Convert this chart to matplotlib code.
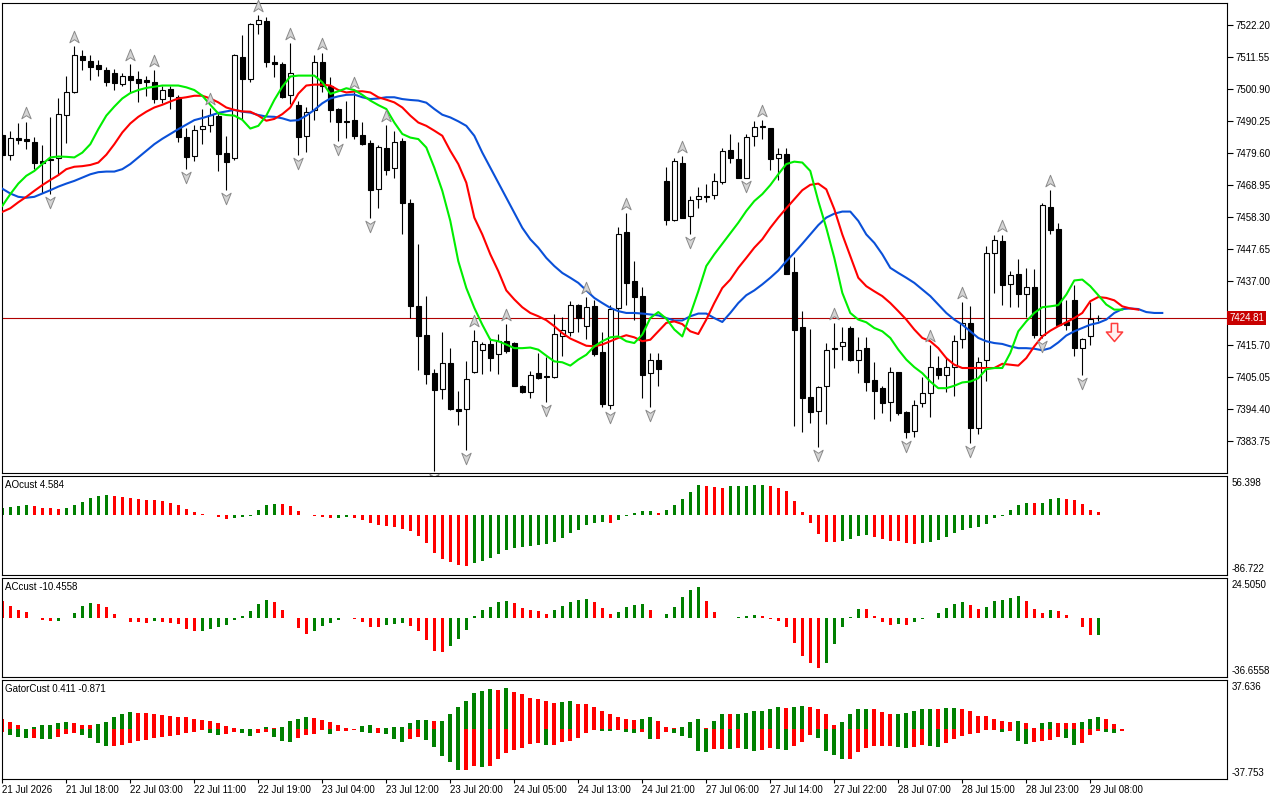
import numpy as np
import matplotlib
matplotlib.use('Agg')
import matplotlib.pyplot as plt
from matplotlib.path import Path
from matplotlib import transforms

# ---------------- data (H1 bars) ----------------
opens = [7485.6, 7478.9, 7484.7, 7484.1, 7483.3, 7476.9, 7477.5, 7477.8, 7492.2, 7500.0,
         7511.7, 7510.2, 7508.7, 7507.2, 7506.3, 7502.4, 7505.3, 7504.3, 7503.8, 7503.3,
         7497.4, 7500.9, 7498.3, 7485.0, 7478.6, 7487.4, 7488.9, 7492.0, 7479.6, 7478.0,
         7511.6, 7504.1, 7522.6, 7523.3, 7509.7, 7509.3, 7498.7, 7495.6, 7485.1, 7493.9,
         7509.7, 7501.7, 7494.1, 7490.3, 7490.7, 7485.6, 7483.0, 7467.6, 7481.4, 7474.7,
         7483.7, 7463.0, 7428.6, 7419.2, 7406.3, 7401.1, 7409.7, 7394.4, 7394.4, 7406.7,
         7414.2, 7416.1, 7412.6, 7417.2, 7416.4, 7402.2, 7400.2, 7406.3, 7405.6, 7405.0,
         7418.9, 7420.2, 7428.9, 7421.9, 7428.7, 7413.3, 7395.8, 7428.1, 7453.3, 7436.9,
         7431.9, 7406.4, 7410.6, 7470.3, 7457.4, 7476.1, 7458.6, 7464.2, 7465.2, 7465.6,
         7470.0, 7480.6, 7477.6, 7471.4, 7485.2, 7488.2, 7487.8, 7478.0, 7479.2, 7440.0,
         7421.7, 7398.6, 7393.9, 7402.2, 7414.9, 7415.3, 7421.3, 7410.9, 7414.7, 7404.2,
         7401.3, 7396.9, 7406.7, 7393.6, 7387.2, 7396.4, 7399.8, 7408.0, 7405.8, 7408.6,
         7417.6, 7423.0, 7388.0, 7410.9, 7446.4, 7450.3, 7436.1, 7439.2, 7432.6, 7435.0,
         7419.1, 7461.7, 7454.2, 7423.3, 7430.6, 7414.7, 7418.6, 7424.6]
highs = [7486.0, 7486.9, 7489.7, 7490.0, 7485.0, 7482.2, 7491.7, 7497.7, 7505.3, 7515.3,
         7513.9, 7512.2, 7510.6, 7508.0, 7507.6, 7506.1, 7509.3, 7506.7, 7505.3, 7507.0,
         7501.7, 7501.7, 7498.9, 7487.8, 7488.9, 7494.2, 7494.4, 7492.8, 7485.3, 7512.4,
         7518.9, 7522.8, 7525.3, 7524.8, 7512.0, 7509.7, 7516.1, 7497.0, 7494.7, 7512.2,
         7512.8, 7504.7, 7494.4, 7496.7, 7500.0, 7489.8, 7483.9, 7482.2, 7488.9, 7486.9,
         7484.4, 7464.2, 7449.2, 7432.2, 7407.8, 7420.0, 7414.7, 7400.6, 7410.3, 7420.6,
         7416.7, 7418.0, 7419.4, 7422.8, 7416.6, 7402.4, 7407.2, 7413.1, 7411.7, 7426.1,
         7425.0, 7430.3, 7429.4, 7431.7, 7430.6, 7420.0, 7428.9, 7455.0, 7459.7, 7443.6,
         7435.0, 7413.0, 7413.0, 7475.0, 7478.0, 7478.6, 7465.3, 7468.3, 7469.2, 7472.8,
         7481.1, 7485.9, 7483.3, 7485.8, 7490.3, 7490.6, 7488.0, 7481.1, 7481.1, 7445.0,
         7427.2, 7421.1, 7402.2, 7416.4, 7423.1, 7421.7, 7422.0, 7418.3, 7418.3, 7410.0,
         7402.2, 7408.3, 7406.9, 7393.9, 7397.6, 7405.0, 7415.6, 7412.0, 7411.7, 7419.1,
         7430.0, 7428.7, 7411.7, 7448.7, 7452.4, 7452.4, 7440.2, 7444.2, 7441.3, 7441.1,
         7462.8, 7467.2, 7456.4, 7430.6, 7435.8, 7418.0, 7430.0, 7425.6]
lows = [7478.0, 7477.1, 7482.4, 7480.8, 7474.4, 7466.4, 7465.8, 7472.2, 7482.8, 7499.5,
        7507.0, 7503.8, 7505.1, 7501.8, 7500.6, 7502.0, 7499.7, 7496.4, 7498.6, 7496.3,
        7496.1, 7494.1, 7483.3, 7474.1, 7476.9, 7482.4, 7486.4, 7473.6, 7467.4, 7477.1,
        7490.9, 7503.3, 7519.2, 7508.1, 7504.7, 7497.8, 7496.0, 7478.9, 7480.0, 7490.6,
        7499.8, 7489.8, 7483.6, 7484.4, 7484.2, 7482.2, 7458.0, 7461.3, 7472.2, 7471.1,
        7452.8, 7424.7, 7407.4, 7402.8, 7373.9, 7397.8, 7394.1, 7389.1, 7380.8, 7406.4,
        7406.1, 7407.2, 7406.1, 7413.1, 7402.0, 7399.8, 7398.1, 7404.4, 7396.7, 7404.8,
        7412.2, 7418.9, 7420.2, 7417.8, 7412.2, 7395.0, 7394.4, 7418.3, 7429.1, 7424.2,
        7398.0, 7395.0, 7402.0, 7455.8, 7456.9, 7457.8, 7452.8, 7461.4, 7463.3, 7464.4,
        7469.4, 7476.3, 7471.1, 7471.1, 7482.0, 7484.2, 7473.9, 7470.6, 7439.2, 7388.9,
        7386.9, 7389.8, 7381.7, 7389.4, 7408.1, 7410.6, 7410.3, 7406.4, 7400.6, 7391.1,
        7393.1, 7390.6, 7392.4, 7385.0, 7385.3, 7395.3, 7391.7, 7404.4, 7400.2, 7398.7,
        7414.8, 7383.3, 7386.1, 7403.9, 7433.1, 7429.1, 7428.3, 7428.3, 7425.0, 7418.0,
        7418.0, 7452.8, 7422.0, 7420.6, 7412.0, 7405.8, 7415.8, 7423.7]
closes = [7478.9, 7484.7, 7483.8, 7483.6, 7476.1, 7476.4, 7477.1, 7492.6, 7500.0, 7512.0,
          7510.4, 7508.1, 7507.4, 7503.1, 7502.8, 7505.3, 7503.7, 7502.8, 7503.1, 7497.4,
          7500.6, 7498.6, 7484.8, 7478.2, 7487.3, 7488.7, 7492.2, 7479.2, 7476.6, 7512.2,
          7504.1, 7522.6, 7523.7, 7509.8, 7509.1, 7498.1, 7506.3, 7485.0, 7493.3, 7509.7,
          7501.7, 7493.7, 7489.8, 7490.0, 7485.3, 7482.4, 7467.2, 7481.6, 7473.9, 7483.3,
          7462.8, 7428.6, 7418.6, 7406.1, 7400.9, 7409.7, 7394.4, 7393.9, 7404.4, 7417.2,
          7416.2, 7411.4, 7417.2, 7413.6, 7402.2, 7400.2, 7405.8, 7404.8, 7405.2, 7419.4,
          7420.6, 7428.9, 7424.7, 7428.3, 7412.8, 7396.1, 7427.8, 7452.6, 7436.3, 7431.7,
          7405.8, 7410.9, 7407.8, 7457.2, 7476.9, 7458.0, 7463.9, 7465.2, 7465.0, 7470.2,
          7480.2, 7477.8, 7471.4, 7485.0, 7488.2, 7488.7, 7477.6, 7479.2, 7439.4, 7420.8,
          7398.1, 7393.6, 7401.7, 7414.2, 7414.4, 7416.9, 7410.9, 7414.2, 7403.6, 7400.6,
          7396.4, 7406.7, 7393.3, 7386.7, 7395.9, 7399.7, 7408.3, 7405.8, 7408.6, 7417.2,
          7423.0, 7388.0, 7410.2, 7446.4, 7450.6, 7435.8, 7438.9, 7432.8, 7435.0, 7419.1,
          7462.4, 7453.9, 7422.4, 7422.4, 7414.7, 7417.8, 7424.4, 7424.81]

# Alligator lines (already shifted forward, so they run past the last bar)
jaw = [7467.7, 7466.1, 7465.0, 7464.7, 7465.0, 7466.1, 7467.2, 7468.4, 7469.4, 7470.3,
       7471.4, 7472.5, 7473.2, 7473.4, 7473.4, 7474.2, 7475.9, 7478.1, 7480.3, 7482.5,
       7484.3, 7485.9, 7487.5, 7489.0, 7490.5, 7491.2, 7492.0, 7492.9, 7493.4, 7493.9,
       7493.3, 7493.0, 7492.2, 7491.7, 7491.6, 7491.1, 7490.3, 7490.5, 7492.0, 7493.9,
       7496.1, 7497.7, 7498.4, 7498.9, 7499.0, 7498.1, 7497.5, 7497.7, 7498.1, 7498.1,
       7497.5, 7497.2, 7497.0, 7496.3, 7494.2, 7492.3, 7491.4, 7490.1, 7488.6, 7485.3,
       7479.7, 7474.7, 7469.7, 7464.7, 7459.7, 7454.7, 7450.9, 7448.1, 7444.7, 7442.0,
       7439.7, 7438.1, 7436.4, 7433.9, 7431.4, 7429.7, 7428.1, 7427.0, 7426.4, 7426.4,
       7426.2, 7425.9, 7425.6, 7424.7, 7423.9, 7423.9, 7425.3, 7426.2, 7426.2, 7424.7,
       7423.4, 7426.4, 7429.7, 7432.3, 7433.9, 7435.9, 7438.1, 7440.5, 7443.6, 7446.4,
       7449.4, 7452.5, 7455.6, 7458.1, 7459.4, 7460.1, 7460.1, 7457.0, 7452.5, 7449.7,
       7445.9, 7441.4, 7439.7, 7438.1, 7436.4, 7434.2, 7432.0, 7429.2, 7426.4, 7424.2,
       7422.5, 7420.3, 7418.1, 7417.0, 7416.4, 7416.1, 7415.3, 7414.7, 7414.7, 7414.5,
       7414.0, 7414.7, 7416.6, 7418.9, 7420.3, 7421.4, 7422.5, 7423.1, 7424.2, 7426.4,
       7427.7, 7427.9, 7427.7, 7426.7, 7426.4, 7426.4]
teeth = [7460.0, 7461.2, 7463.2, 7465.0, 7467.0, 7468.9, 7470.6, 7472.2, 7474.2, 7475.0,
         7475.2, 7475.6, 7476.4, 7479.0, 7482.5, 7486.4, 7489.4, 7491.6, 7493.3, 7494.7,
         7495.6, 7496.7, 7497.7, 7498.1, 7498.6, 7498.6, 7497.7, 7496.4, 7494.7, 7493.9,
         7493.4, 7493.3, 7492.0, 7490.3, 7490.9, 7492.5, 7494.7, 7499.3, 7502.0, 7502.3,
         7502.3, 7502.0, 7500.5, 7499.7, 7500.0, 7500.1, 7499.7, 7498.1, 7497.3, 7496.4,
         7494.7, 7492.0, 7489.7, 7488.6, 7487.0, 7485.3, 7480.3, 7475.9, 7469.7, 7458.1,
         7452.5, 7445.9, 7440.3, 7433.9, 7430.9, 7428.3, 7426.4, 7425.3, 7424.0, 7422.0,
         7419.7, 7417.9, 7416.7, 7415.5, 7415.3, 7415.9, 7417.0, 7418.1, 7419.0, 7418.3,
         7417.0, 7417.5, 7420.3, 7423.1, 7423.6, 7422.7, 7420.3, 7419.4, 7424.2, 7429.7,
         7434.7, 7437.5, 7441.4, 7444.7, 7448.1, 7450.9, 7454.7, 7458.1, 7461.2, 7464.2,
         7467.2, 7469.0, 7469.4, 7467.5, 7460.9, 7452.5, 7445.3, 7438.1, 7435.3, 7433.6,
         7432.0, 7429.7, 7427.0, 7424.2, 7420.9, 7418.1, 7417.0, 7414.7, 7411.4, 7409.2,
         7408.1, 7408.1, 7408.1, 7408.1, 7408.1, 7409.5, 7409.2, 7408.9, 7411.4, 7415.3,
         7418.6, 7420.5, 7422.0, 7423.3, 7424.7, 7426.4, 7430.3, 7431.7, 7431.4, 7430.6,
         7428.6, 7427.9, 7427.5]
lips = [7462.0, 7465.9, 7469.4, 7472.0, 7473.6, 7475.9, 7478.1, 7478.4, 7478.3, 7478.1,
        7479.7, 7482.5, 7487.5, 7492.0, 7495.0, 7497.7, 7499.5, 7500.5, 7501.2, 7501.6,
        7502.0, 7502.0, 7502.0, 7501.4, 7500.5, 7498.6, 7495.6, 7492.7, 7492.2, 7492.0,
        7490.6, 7487.7, 7488.6, 7492.0, 7497.2, 7501.6, 7505.0, 7505.3, 7505.3, 7505.3,
        7503.1, 7499.2, 7500.1, 7501.1, 7500.5, 7498.9, 7497.0, 7495.5, 7494.2, 7489.7,
        7485.9, 7484.7, 7484.2, 7481.4, 7474.7, 7467.0, 7457.0, 7443.6, 7434.7, 7428.1,
        7422.5, 7417.5, 7417.0, 7415.9, 7414.7, 7414.7, 7414.9, 7414.2, 7412.2, 7410.3,
        7410.0, 7408.9, 7410.9, 7412.5, 7415.3, 7417.0, 7418.3, 7418.6, 7417.0, 7416.4,
        7419.2, 7424.7, 7426.7, 7424.5, 7420.9, 7418.6, 7425.9, 7433.6, 7442.0, 7445.9,
        7449.4, 7452.9, 7456.4, 7460.3, 7463.6, 7465.9, 7468.9, 7472.5, 7475.9, 7476.7,
        7476.4, 7473.6, 7463.6, 7454.7, 7444.7, 7433.1, 7426.4, 7424.2, 7423.3, 7421.4,
        7420.3, 7418.1, 7414.2, 7410.9, 7408.4, 7406.4, 7403.6, 7401.4, 7401.4, 7402.2,
        7403.3, 7403.6, 7404.7, 7407.7, 7408.1, 7408.1, 7413.1, 7420.3, 7423.6, 7426.4,
        7428.3, 7428.6, 7429.0, 7432.5, 7437.2, 7437.5, 7435.3, 7432.3, 7429.2, 7427.5,
        7427.5]

up_fractals = [3, 9, 16, 19, 26, 32, 36, 40, 44, 48, 59, 63, 73, 78, 85, 95, 104, 116, 120, 125, 131]
down_fractals = [6, 23, 28, 37, 42, 46, 54, 58, 68, 76, 81, 86, 93, 102, 113, 121, 130, 135]

ao = [10.6, 12.0, 13.0, 14.4, 13.0, 10.6, 10.1, 8.6, 10.1, 14.4,
      19.2, 24.5, 27.4, 28.8, 27.4, 25.9, 24.5, 22.6, 21.6, 21.4,
      20.2, 16.8, 14.4, 8.6, 4.3, 1.0, -0.5, -2.9, -5.3, -3.8,
      -2.4, -1.0, 7.2, 14.4, 15.8, 15.4, 13.0, 5.8, -0.5, -1.0,
      -2.4, -3.8, -3.6, -2.9, -3.8, -6.7, -11.0, -13.9, -15.8, -17.3,
      -20.2, -22.6, -29.8, -40.3, -54.7, -63.4, -68.6, -72.5, -74.4, -69.1,
      -65.8, -62.0, -56.2, -50.4, -47.0, -45.6, -44.2, -43.2, -41.8, -39.0,
      -32.6, -25.4, -21.6, -14.4, -11.0, -9.6, -11.0, -7.2, -1.0, 2.4,
      5.8, 6.0, 2.9, 7.2, 14.4, 23.0, 33.6, 43.2, 41.8, 40.3,
      38.9, 41.8, 42.0, 42.2, 43.2, 43.4, 41.8, 38.9, 34.6, 20.2,
      4.3, -11.0, -27.4, -38.4, -38.6, -37.0, -34.1, -29.8, -28.3, -31.2,
      -34.1, -37.0, -37.2, -39.8, -41.3, -39.8, -39.6, -35.5, -31.2, -25.4,
      -21.1, -18.2, -16.8, -12.5, -3.8, -0.8, 7.2, 14.4, 17.3, 17.1,
      17.5, 23.0, 24.5, 23.0, 21.6, 15.8, 7.2, 4.584]
ac = [10.5, 7.4, 4.9, 3.3, -0.2, -1.6, -2.3, -2.1, -0.2, 3.1,
      7.4, 9.2, 8.6, 6.4, 2.1, -0.2, -2.5, -2.9, -3.0, -2.3,
      -2.9, -3.5, -4.1, -6.8, -8.4, -8.2, -7.2, -5.9, -4.7, -1.6,
      1.2, 4.3, 8.6, 11.1, 9.4, 4.9, -0.2, -6.6, -9.8, -8.4,
      -5.3, -3.5, -1.6, -0.4, -0.6, -2.9, -5.9, -6.0, -4.7, -4.1,
      -3.5, -5.3, -8.4, -13.7, -20.7, -21.3, -17.6, -13.3, -7.8, 1.2,
      4.9, 6.8, 9.4, 10.5, 8.8, 6.2, 4.5, 3.9, 2.5, 4.5,
      7.4, 9.8, 11.1, 11.7, 9.8, 6.2, 2.5, 3.7, 6.8, 8.0,
      8.2, 4.9, -0.2, 2.5, 6.8, 12.9, 17.2, 19.1, 10.5, 3.7,
      -0.2, 0.0, 0.6, 1.2, 1.8, 1.2, -1.0, -2.3, -5.9, -15.8,
      -23.8, -28.1, -31.2, -28.1, -16.4, -5.9, 0.6, 5.5, 5.3, 1.2,
      -2.9, -4.7, -4.1, -4.3, -2.9, -1.0, -0.2, 3.1, 6.2, 8.6,
      9.8, 8.0, 5.5, 6.8, 10.5, 11.1, 12.3, 13.5, 10.5, 5.5,
      3.1, 4.9, 4.3, 1.8, -0.2, -5.9, -10.9, -10.4558]
gator_up = [8.3, 5.6, 3.0, 0.3, 2.0, 3.0, 3.5, 4.6, 5.6, 4.6,
            3.5, 3.0, 4.0, 5.6, 9.1, 11.4, 12.9, 12.7, 12.4, 11.4,
            10.9, 10.6, 9.6, 9.1, 8.3, 7.3, 6.1, 4.8, 2.5, 0.8,
            0.3, 0.1, 0.2, 1.5, 0.8, 1.8, 6.1, 8.3, 9.1, 9.0,
            6.8, 5.6, 3.0, 0.8, 0.7, 2.3, 3.0, 0.8, 0.9, 1.5,
            2.0, 4.8, 6.8, 6.9, 6.6, 6.7, 11.6, 16.7, 22.0, 28.1,
            29.6, 31.1, 30.4, 31.2, 28.8, 26.6, 24.3, 22.8, 21.3, 20.5,
            20.6, 21.3, 19.7, 19.0, 16.7, 14.4, 11.4, 9.1, 7.6, 6.8,
            8.3, 9.1, 6.1, 1.5, 0.8, 1.5, 5.3, 7.6, 0.8, 6.1,
            12.1, 12.0, 12.1, 12.2, 13.7, 14.4, 15.9, 16.7, 16.6, 16.8,
            17.5, 16.7, 15.2, 11.4, 3.0, 5.3, 11.4, 15.2, 15.9, 15.2,
            12.9, 11.4, 12.1, 12.2, 13.7, 15.2, 15.9, 15.2, 16.0, 16.1,
            15.2, 13.7, 10.6, 9.9, 8.3, 6.1, 6.0, 6.1, 4.6, 0.8,
            4.6, 5.3, 5.2, 5.1, 4.6, 5.3, 8.3, 9.1, 7.6, 3.8,
            0.2, 0.35, 0.411]
gator_down = [1.8, 4.3, 5.8, 6.8, 6.6, 7.3, 7.6, 5.8, 3.5, 2.5,
              4.3, 6.8, 10.4, 12.7, 12.5, 11.6, 10.4, 8.9, 8.1, 6.8,
              5.8, 4.8, 4.3, 3.0, 2.3, 0.8, 2.5, 4.0, 3.3, 2.0,
              2.5, 4.8, 2.5, 2.0, 5.8, 8.9, 9.6, 6.8, 4.3, 3.3,
              0.8, 3.5, 1.3, 1.2, 0.5, 2.3, 2.5, 2.4, 3.5, 7.3,
              9.6, 7.3, 5.8, 8.1, 13.4, 20.2, 24.8, 30.9, 30.8, 28.1,
              28.8, 28.1, 22.8, 18.0, 15.9, 14.4, 11.4, 10.6, 12.1, 12.0,
              9.9, 9.1, 6.8, 3.0, 0.8, 0.9, 1.5, 0.8, 2.3, 3.0,
              2.3, 7.6, 7.5, 2.3, 3.0, 5.3, 6.8, 16.7, 17.5, 15.2,
              15.1, 15.2, 14.4, 15.2, 16.7, 15.9, 14.4, 15.2, 15.3, 12.9,
              9.9, 4.6, 6.8, 16.7, 19.7, 22.8, 22.7, 17.5, 14.4, 12.9,
              12.8, 12.7, 13.7, 14.4, 13.6, 12.1, 12.9, 13.7, 10.6, 7.6,
              5.3, 3.8, 3.0, 0.8, 0.7, 2.3, 1.5, 9.1, 11.4, 9.9,
              9.1, 8.3, 6.1, 6.8, 12.1, 10.6, 4.6, 1.5, 2.3, 2.4,
              0.871]

time_labels = ["21 Jul 2026", "21 Jul 18:00", "22 Jul 03:00", "22 Jul 11:00", "22 Jul 19:00",
               "23 Jul 04:00", "23 Jul 12:00", "23 Jul 20:00", "24 Jul 05:00", "24 Jul 13:00",
               "24 Jul 21:00", "27 Jul 06:00", "27 Jul 14:00", "27 Jul 22:00", "28 Jul 07:00",
               "28 Jul 15:00", "28 Jul 23:00", "29 Jul 08:00"]
price_ticks = [7522.20, 7511.55, 7500.90, 7490.25, 7479.60, 7468.95, 7458.30,
               7447.65, 7437.00, 7426.35, 7415.70, 7405.05, 7394.40, 7383.75]
last_price = 7424.81
signal_bar = 139
signal_price = 7420.2

ao_range = (-86.722, 56.398)
ac_range = (-36.6558, 24.5050)
gator_range = (-37.753, 37.636)
price_range = (7373.2, 7529.6)

GREEN = '#008000'
RED = '#ff0000'

plt.rcParams['font.family'] = ['Liberation Sans', 'DejaVu Sans']
plt.rcParams['font.size'] = 7


def trend_colors(vals, first):
    cols = [first]
    for prev, cur in zip(vals[:-1], vals[1:]):
        cols.append(GREEN if cur > prev else RED)
    return cols


def frame(ax):
    for s in ax.spines.values():
        s.set_linewidth(0.8)
        s.set_color('black')
    ax.set_xlim(-0.04, 153.09)


fig = plt.figure(figsize=(12.8, 8), dpi=100)
L, W = 2 / 1280, 1225 / 1280
ax = fig.add_axes([L, 1 - 473 / 800, W, 470.5 / 800])
ax_ao = fig.add_axes([L, 1 - 575 / 800, W, 99 / 800])
ax_ac = fig.add_axes([L, 1 - 677 / 800, W, 99 / 800])
ax_g = fig.add_axes([L, 1 - 779 / 800, W, 99 / 800])

# ---------------- price panel ----------------
x = np.arange(len(opens))
o, h, l, c = map(np.array, (opens, highs, lows, closes))
ax.vlines(x, l, h, color='black', lw=0.8, zorder=3)
body = np.maximum(np.abs(c - o), 0.25)
face = np.where(c >= o, 'white', 'black')
ax.bar(x, body, bottom=np.minimum(o, c), width=0.58, color=face,
       edgecolor='black', linewidth=0.8, zorder=4)

ax.axhline(last_price, color='#b00000', lw=0.8, zorder=2)

ax.plot(np.arange(len(jaw)), jaw, color='#0a50d8', lw=1.5, zorder=5)
ax.plot(np.arange(len(teeth)), teeth, color='#ff0000', lw=1.5, zorder=6)
ax.plot(np.arange(len(lips)), lips, color='#00ee00', lw=1.5, zorder=7)

up_arrow = Path([(0, 1), (0.75, -0.85), (0, -0.35), (-0.75, -0.85), (0, 1)],
                [Path.MOVETO, Path.LINETO, Path.LINETO, Path.LINETO, Path.CLOSEPOLY])
down_arrow = Path([(0, -1), (0.75, 0.85), (0, 0.35), (-0.75, 0.85), (0, -1)],
                  [Path.MOVETO, Path.LINETO, Path.LINETO, Path.LINETO, Path.CLOSEPOLY])
up_tr = transforms.offset_copy(ax.transData, fig=fig, x=0, y=9, units='dots')
dn_tr = transforms.offset_copy(ax.transData, fig=fig, x=0, y=-8, units='dots')
ax.plot(up_fractals, h[up_fractals], ls='none', marker=up_arrow, ms=9,
        mfc='#d4d4d4', mec='#8a8a8a', mew=0.7, transform=up_tr, zorder=8, clip_on=False)
ax.plot(down_fractals, l[down_fractals], ls='none', marker=down_arrow, ms=9,
        mfc='#d4d4d4', mec='#8a8a8a', mew=0.7, transform=dn_tr, zorder=8, clip_on=False)

sell_arrow = Path([(-0.35, 1), (0.35, 1), (0.35, 0.05), (0.9, 0.05), (0, -1),
                   (-0.9, 0.05), (-0.35, 0.05), (-0.35, 1)],
                  [Path.MOVETO] + [Path.LINETO] * 6 + [Path.CLOSEPOLY])
ax.plot([signal_bar], [signal_price], ls='none', marker=sell_arrow, ms=13,
        mfc='#fff0f0', mec='#ff3c3c', mew=1.1, zorder=8)

ax.set_ylim(*price_range)
ax.yaxis.tick_right()
ax.set_yticks(price_ticks)
# the tick next to the last price is covered by the price box, as in the terminal
ax.set_yticklabels(['' if abs(p - last_price) < 3 else f'{p:.2f}' for p in price_ticks])
ax.tick_params(axis='y', direction='out', length=4, width=0.8, pad=2)
ax.set_xticks([])
frame(ax)
ax.text(1.0 + 2 / 1225, last_price, f'{last_price:.2f}', color='white',
        transform=transforms.blended_transform_factory(ax.transAxes, ax.transData),
        ha='left', va='center', fontsize=7, zorder=20, clip_on=False,
        bbox=dict(boxstyle='square,pad=0.22', fc='#c80000', ec='none'))

# ---------------- AO ----------------
xa = np.arange(len(ao))
ax_ao.bar(xa, ao, width=0.42, color=trend_colors(ao, GREEN), linewidth=0)
ax_ao.set_ylim(*ao_range)

# ---------------- AC ----------------
xc = np.arange(len(ac))
ax_ac.bar(xc, ac, width=0.42, color=trend_colors(ac, RED), linewidth=0)
ax_ac.set_ylim(*ac_range)

# ---------------- Gator ----------------
ax_g.bar(np.arange(len(gator_up)), gator_up, width=0.5,
         color=trend_colors(gator_up, RED), linewidth=0)
ax_g.bar(np.arange(len(gator_down)), -np.array(gator_down), width=0.5,
         color=trend_colors(gator_down, RED), linewidth=0)
ax_g.set_ylim(*gator_range)

titles = [(ax_ao, 'AOcust 4.584', ao_range, '{:.3f}'),
          (ax_ac, 'ACcust -10.4558', ac_range, '{:.4f}'),
          (ax_g, 'GatorCust 0.411 -0.871', gator_range, '{:.3f}')]
for a, title, rng, fmt in titles:
    frame(a)
    a.set_yticks([])
    a.set_xticks([])
    a.text(3 / 1225, 1 - 3.5 / 99, title, transform=a.transAxes, ha='left', va='top')
    a.text(1.0 + 5 / 1225, 1 - 1.5 / 99, fmt.format(rng[1]), transform=a.transAxes,
           ha='left', va='top', clip_on=False)
    a.text(1.0 + 5 / 1225, 1.5 / 99, fmt.format(rng[0]), transform=a.transAxes,
           ha='left', va='bottom', clip_on=False)

ax_g.set_xticks(np.arange(len(time_labels)) * 8)
ax_g.set_xticklabels(time_labels, ha='left')
ax_g.tick_params(axis='x', direction='out', length=3, width=0.8, pad=1.5)

fig.savefig('out.png', dpi=100, facecolor='white')
